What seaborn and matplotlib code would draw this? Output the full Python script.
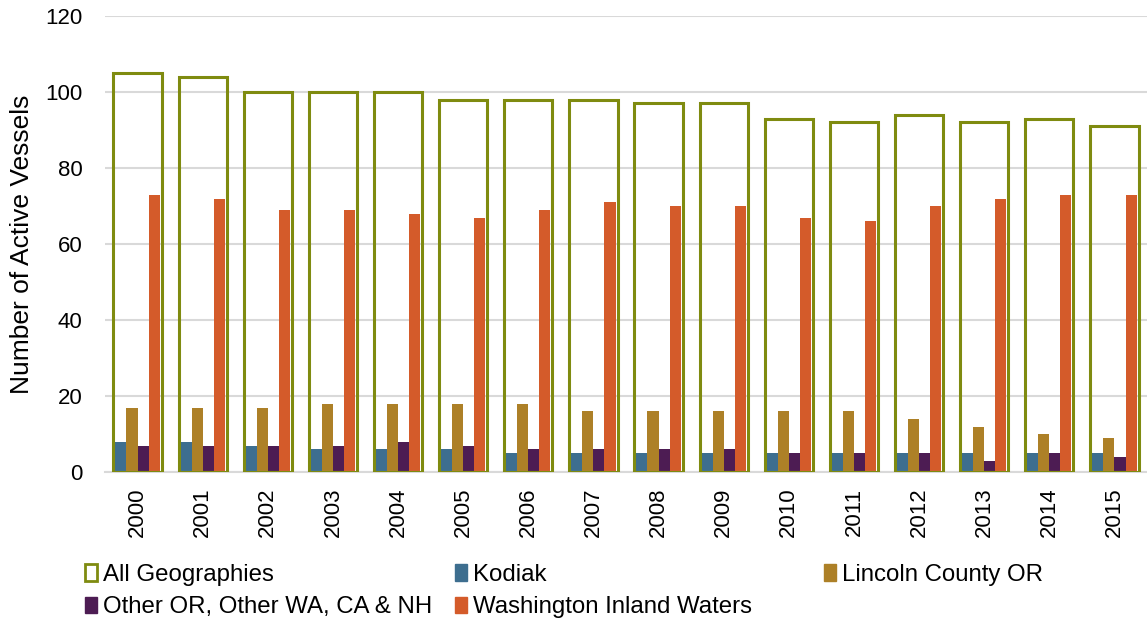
import numpy as np
import pandas as pd
import matplotlib
matplotlib.use('Agg')
import matplotlib.pyplot as plt
from matplotlib.patches import Patch
import seaborn as sns

sns.set_style('white')
plt.rcParams['font.family'] = ['Liberation Sans', 'DejaVu Sans']
plt.rcParams['text.color'] = 'black'
plt.rcParams['xtick.color'] = 'black'
plt.rcParams['ytick.color'] = 'black'
plt.rcParams['axes.labelcolor'] = 'black'

years = [str(y) for y in range(2000, 2016)]
all_geo = [105, 104, 100, 100, 100, 98, 98, 98, 97, 97, 93, 92, 94, 92, 93, 91]
kodiak = [8, 8, 7, 6, 6, 6, 5, 5, 5, 5, 5, 5, 5, 5, 5, 5]
lincoln = [17, 17, 17, 18, 18, 18, 18, 16, 16, 16, 16, 16, 14, 12, 10, 9]
other = [7, 7, 7, 7, 8, 7, 6, 6, 6, 6, 5, 5, 5, 3, 5, 4]
washington = [73, 72, 69, 69, 68, 67, 69, 71, 70, 70, 67, 66, 70, 72, 73, 73]

series = ['Kodiak', 'Lincoln County OR', 'Other OR, Other WA, CA & NH',
          'Washington Inland Waters']
colors = ['#3d6e8f', '#ad8027', '#4d1c53', '#d45b2a']
olive = '#7f8b10'

long = pd.DataFrame({
    'Year': years * 4,
    'Vessels': kodiak + lincoln + other + washington,
    'Series': sum([[s] * len(years) for s in series], []),
})

fig = plt.figure(figsize=(11.47, 6.18), dpi=100)
ax = fig.add_axes([0.0915, 0.236, 0.9085, 0.738])

sns.barplot(x=years, y=all_geo, fill=False, color=olive, width=0.74,
            linewidth=2.2, saturation=1, ax=ax, zorder=3)
sns.barplot(data=long, x='Year', y='Vessels', hue='Series', palette=colors,
            width=0.68, saturation=1, linewidth=0, ax=ax, zorder=2,
            legend=False)

ax.set_ylim(0, 120)
ax.set_yticks(range(0, 121, 20))
ax.set_xlim(-0.5, len(years) - 0.5)
ax.yaxis.grid(True, color='#d9d9d9', linewidth=1.5)
ax.set_axisbelow(True)
for s in ['top', 'right', 'left']:
    ax.spines[s].set_visible(False)
ax.spines['bottom'].set_color('#d9d9d9')
ax.spines['bottom'].set_linewidth(1.5)
ax.tick_params(axis='y', length=0, pad=16, labelsize=16)
ax.tick_params(axis='x', length=0, pad=11, labelsize=16, rotation=90)
ax.set_xlabel('')
ax.set_ylabel('Number of Active Vessels', fontsize=19, labelpad=8)

# legend, three columns placed like the original
h_all = Patch(facecolor='white', edgecolor=olive, linewidth=2, label='All Geographies')
handles = [Patch(facecolor=c, edgecolor=c, label=s) for c, s in zip(colors, series)]
cols = [([h_all, handles[2]], 0.074), ([handles[0], handles[3]], 0.397),
        ([handles[1]], 0.718)]
for hs, x in cols:
    fig.legend(handles=hs, loc='upper left', bbox_to_anchor=(x, 0.088),
               frameon=False, fontsize=17.3, handlelength=0.5, handleheight=0.7,
               handletextpad=0.25, labelspacing=0.45, borderaxespad=0,
               borderpad=0)

fig.savefig('out.png', dpi=100)
